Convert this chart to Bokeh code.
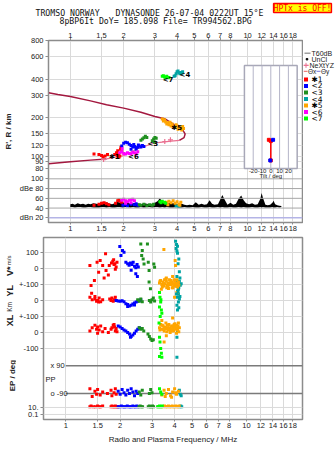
import math
from bokeh.plotting import figure
from bokeh.layouts import column, row
from bokeh.models import (Range1d, FixedTicker, LogAxis, Label, Span, LinearScale)
from bokeh.embed import file_html
from bokeh.resources import INLINE
from bokeh.core.properties import value

# ---------------- data ----------------
freq_ticks = [1, 1.5, 2, 3, 4, 5, 6, 7, 8, 10, 12, 14, 16, 18]
freq_tick_labels = ["1", "1.5", "2", "3", "4", "5", "6", "7", "8", "10", "12", "14", "16", "18"]
range_ticks = [80, 90, 100, 120, 150, 200, 300, 400, 600, 800]
dbe_ticks = [20, 40, 60, 80, 100]
dbe_tick_labels = ["dBn 20", "40", "60", "dBe 80", "100"]
tilt_ticks = [-20, -10, 0, 10, 20]

class_ids = [1, 2, 3, 4, 5, 6, 7]
class_names = ["✱1", "<2", "<3", "<4", "✱5", "<6", "<7"]
class_colors = ["#ff0000", "#0000ff", "#1f8f1f", "#00a3a3", "#ffa500", "#ff00ff", "#00ff00"]

# virtual range R' (km) of echoes, per class: (freq MHz, km)
rng_pts = {
    1: ([1.36, 1.45, 1.5, 1.53, 1.57, 1.62, 1.78, 1.82, 1.85, 1.87, 1.9, 1.92, 1.95, 1.88, 1.84, 1.93],
        [104, 103, 101, 99, 100, 103, 103, 106, 110, 104, 100, 113, 108, 98, 101, 117]),
    2: ([1.95, 2.0, 2.05, 2.1, 2.15, 2.2, 2.25, 2.3, 2.35, 2.4, 2.45, 2.5, 2.55, 2.6, 2.2, 2.35, 2.28, 2.42],
        [120, 126, 128, 127, 124, 121, 118, 119, 116, 117, 120, 118, 121, 119, 113, 113, 123, 122]),
    3: ([2.5, 2.55, 2.6, 2.65, 2.7, 2.9, 2.95, 3.0, 3.05, 2.98],
        [133, 136, 139, 143, 140, 132, 136, 140, 138, 128]),
    4: ([3.85, 3.9, 3.95, 4.0, 4.05, 4.1, 4.15, 4.2, 4.25, 4.3],
        [420, 425, 440, 455, 462, 448, 440, 450, 445, 455]),
    5: ([3.3, 3.35, 3.45, 3.5, 3.55, 3.6, 3.7, 3.8, 3.9, 4.0, 4.1, 4.2, 4.3, 4.35, 3.65, 3.95, 3.4, 3.75, 4.05, 4.25],
        [195, 188, 185, 178, 182, 176, 172, 170, 168, 172, 168, 166, 170, 164, 184, 176, 192, 178, 162, 160]),
    6: ([1.9, 1.95, 2.0, 2.05, 2.1, 2.15, 2.2, 2.3, 2.4, 1.96, 2.25, 2.35],
        [106, 108, 105, 104, 106, 105, 104, 106, 108, 114, 107, 104]),
    7: ([3.3, 3.35, 3.4, 3.45, 3.5, 3.6],
        [420, 425, 415, 410, 420, 412]),
}
# class labels drawn in the range panel
tag_f = [1.77, 2.27, 2.92, 3.56, 4.43, 3.98]
tag_km = [99, 99, 125, 395, 430, 167]
tag_text = ["✱1", "<6", "<3", "<7", "<4", "✱5"]

# profile curves
prof_f = [0.753, 0.85, 1.0, 1.3, 1.6, 2.0, 2.5, 3.0, 3.4, 3.87, 4.3, 4.44, 4.38, 4.12]
prof_km = [312, 303, 292, 270, 252, 237, 220, 204, 196, 175, 160, 149, 139.5, 132.6]
low_f = [0.753, 1.0, 1.3, 1.6]
low_km = [87.2, 90.5, 93, 95]
nexyz_f = [1.6, 2.0, 2.4, 3.0, 3.41, 3.7, 4.12]
nexyz_km = [95, 101, 114, 127, 129, 131, 132.6]
nexyz_mark_f = [1.54, 3.41, 3.67]
nexyz_mark_km = [94, 130, 134]

# tilt inset (deg, km)
thx_tilt = [-2.2, 0, 0]
thx_km = [134, 131, 92.5]
thy_tilt = [2.6, -0.6]
thy_km = [134, 92.5]

# amplitude trace (dBe)
amp_f = [1.0, 1.03, 1.06, 1.1, 1.14, 1.18, 1.22, 1.26, 1.3, 1.35,
         1.4, 1.45, 1.5, 1.55, 1.6, 1.66, 1.72, 1.78, 1.84, 1.9,
         1.97, 2.04, 2.11, 2.18, 2.26, 2.34, 2.42, 2.5, 2.6, 2.7,
         2.8, 2.9, 3.0, 3.1, 3.2, 3.3, 3.4, 3.5, 3.65, 3.8,
         3.95, 4.1, 4.25, 4.4, 4.55, 4.7, 4.9, 5.1, 5.3, 5.5,
         5.7, 5.9, 6.1, 6.3, 6.5, 6.8, 7.0, 7.2, 7.4, 7.7,
         8.0, 8.3, 8.6, 8.9, 9.2, 9.5, 9.8, 10.2, 10.6, 11.0,
         11.4, 11.8, 12.0, 12.2, 12.6, 13.0, 13.4, 13.8, 14.0, 14.3,
         14.7, 15.1, 15.5]
amp_hi = [48, 49, 47, 50, 48, 49, 47, 49, 48, 50,
          49, 48, 51, 50, 52, 49, 48, 50, 53, 51,
          52, 50, 51, 49, 50, 51, 49, 48, 50, 49,
          48, 49, 51, 54, 60, 53, 50, 49, 51, 50,
          49, 48, 49, 47, 46, 47, 46, 52, 47, 49,
          47, 48, 56, 49, 47, 48, 57, 67, 58, 47,
          51, 47, 49, 59, 66, 56, 50, 48, 50, 47,
          48, 59, 71, 61, 47, 46, 47, 51, 55, 48,
          46, 45, 44]
amp_lo = [42, 42, 41, 42, 42, 41, 41, 42, 42, 41,
          41, 41, 42, 42, 41, 42, 41, 41, 42, 42,
          41, 42, 42, 41, 42, 41, 41, 42, 41, 42,
          42, 41, 42, 42, 41, 42, 41, 42, 41, 41,
          42, 41, 41, 42, 41, 41, 42, 41, 41, 42,
          41, 41, 42, 41, 41, 42, 41, 42, 41, 41,
          42, 41, 41, 42, 41, 42, 41, 41, 42, 41,
          41, 42, 41, 42, 41, 41, 41, 42, 41, 41,
          42, 41, 42]
amp_pts = {
    1: ([1.36, 1.45, 1.5, 1.55, 1.6, 1.65, 1.8, 1.85, 1.88, 1.92, 1.95],
        [46, 48, 50, 51, 49, 47, 50, 55, 57, 54, 52]),
    2: ([1.98, 2.05, 2.1, 2.2, 2.3, 2.35, 2.4], [46, 47, 45, 48, 47, 49, 46]),
    3: ([2.45, 2.5, 2.6, 2.7, 2.8, 2.9, 2.95], [47, 46, 48, 45, 47, 46, 48]),
    4: ([3.95, 4.05, 4.1], [44, 45, 43]),
    5: ([3.5, 3.6, 3.7, 3.8, 3.9, 4.0, 4.1, 4.2, 3.55, 4.15], [52, 54, 51, 55, 50, 53, 48, 52, 47, 46]),
    6: ([1.95, 2.0, 2.05, 2.1, 2.15, 2.2, 2.25, 2.3, 2.05, 2.2], [56, 58, 55, 53, 56, 57, 58, 55, 50, 51]),
    7: ([3.2, 3.25, 3.3, 3.4, 3.45], [53, 51, 54, 52, 50]),
}

# V* (m/s)
vel_pts = {
    1: ([1.36, 1.38, 1.39, 1.44, 1.49, 1.52, 1.55, 1.6, 1.63, 1.67, 1.66, 1.72, 1.74, 1.79, 1.82, 1.85, 1.87, 1.88, 1.9, 1.92, 1.84],
        [19, -106, -154, -75, 40, -23, 50, 19, -60, -12, 92, -40, 19, 35, 45, 25, 30, -5, 10, 40, 55]),
    2: ([1.99, 2.02, 2.06, 2.1, 2.15, 2.2, 2.24, 2.28, 2.32, 2.36, 2.4, 2.44, 2.48, 2.52, 2.3, 2.44, 2.49],
        [137, 81, 112, 102, 40, 30, 20, 35, 25, 40, 15, 5, 25, 10, -10, -33, -50]),
    3: ([2.6, 2.63, 2.65, 2.68, 2.71, 2.83, 2.86, 2.89, 2.89, 2.94, 3.07, 3.1],
        [154, 81, 112, 60, 29, 154, 40, -12, -85, -127, 29, 8]),
    4: ([4.05, 4.1, 4.08, 4.12, 4.15, 4.1, 4.2, 4.18, 4.22, 4.25, 4.3, 4.15, 4.2, 4.28, 4.35, 4.1,
         4.15, 4.22, 4.18, 4.25, 4.12, 4.2],
        [170, 150, 125, 110, 95, -110, -90, -100, -120, -80, -105, -140, -130, -60, -95, -75,
         140, 60, 30, -20, -50, -160]),
    5: ([3.49, 3.3, 3.35, 3.4, 3.45, 3.5, 3.55, 3.6, 3.65, 3.7, 3.75, 3.8, 3.85, 3.9, 3.95, 4.0, 4.05, 4.1, 4.15, 4.2,
         3.38, 3.6, 3.9, 4.03, 4.05, 4.12, 3.7, 4.0,
         3.32, 3.42, 3.52, 3.62, 3.72, 3.82, 3.92, 4.02, 4.12, 4.22, 3.48, 3.58, 3.68, 3.78, 3.88, 3.98, 4.08, 4.18],
        [119, -90, -75, -100, -85, -110, -95, -80, -105, -90, -70, -100, -85, -95, -110, -80, -100, -90, -115, -85,
         -130, -60, -50, 50, 19, -150, -125, -180,
         -80, -115, -70, -120, -100, -75, -120, -95, -70, -105, -95, -65, -110, -90, -120, -70, -110, -95]),
}
# YL (km)
yl_pts = {
    1: ([1.36, 1.4, 1.45, 1.48, 1.5, 1.53, 1.56, 1.6, 1.75, 1.78, 1.8, 1.83, 1.86, 1.88, 1.9, 1.45, 1.52],
        [20, 5, 10, -5, 0, 15, -8, 5, 10, 0, 15, -5, 5, 20, 0, 25, -10]),
    2: ([1.9, 1.95, 2.0, 2.05, 2.1, 2.15, 2.2, 2.25, 2.3, 2.35, 2.4, 2.45, 2.5, 2.55, 2.6, 2.2, 2.4],
        [0, -3, -5, -2, -8, -20, -25, -35, -30, -22, -15, -10, -5, -2, 5, -38, -28]),
    3: ([2.5, 2.55, 2.6, 2.65, 2.9, 2.95, 3.0, 3.05, 3.1], [5, -5, 10, -8, 0, -10, 5, 15, -3]),
    4: ([4.1, 4.15, 4.2, 4.12, 4.25, 4.18, 4.22, 4.28, 4.15], [40, 20, -10, -30, 10, 55, -45, 25, -60]),
    7: ([3.3, 3.32, 3.35, 3.3, 3.38, 3.4, 3.33, 3.36], [50, 20, -10, -40, -60, -80, -100, 5]),
}
# XL (km)
xl_pts = {
    1: ([1.36, 1.4, 1.45, 1.48, 1.5, 1.53, 1.56, 1.6, 1.65, 1.72, 1.78, 1.8, 1.83, 1.86, 1.88, 1.9, 1.92, 1.5, 1.85],
        [10, 30, 45, 20, 35, 15, 40, 5, 25, 0, 20, 30, 45, 35, 10, 25, 5, -5, 50]),
    2: ([1.95, 2.0, 2.05, 2.1, 2.15, 2.2, 2.25, 2.3, 2.35, 2.4, 2.45, 2.5, 2.55, 2.6, 2.28],
        [40, 35, 25, 15, 10, 0, -10, -25, -15, -5, 10, 20, 30, 25, -30]),
    3: ([2.55, 2.6, 2.65, 2.7, 2.85, 2.9, 2.95, 3.0, 3.05], [30, 20, 25, 10, -10, -25, -40, -50, -45]),
    4: ([4.12, 4.12, 4.15], [-30, -155, 10]),
    5: ([3.3, 3.35, 3.4, 3.45, 3.5, 3.55, 3.6, 3.65, 3.7, 3.75, 3.8, 3.85, 3.9, 3.95, 4.0, 4.05, 4.1, 4.15, 4.2,
         3.4, 3.6, 3.9, 4.1, 3.5, 4.25,
         3.32, 3.42, 3.52, 3.62, 3.72, 3.82, 3.92, 4.02, 4.12, 4.22, 3.48, 3.58, 3.68, 3.78, 3.88, 3.98, 4.08, 4.18],
        [30, 50, 20, 40, 10, 35, 25, 45, 15, 30, 20, 40, 25, 10, 35, 20, 45, 15, 60, 75, -20, 90, -5, -60, 30,
         15, 45, 30, 5, 50, 10, 40, 55, 25, 5, 20, 60, 30, 0, 15, 50, 30, 40]),
    7: ([3.3, 3.32, 3.35, 3.38, 3.3, 3.4, 3.28], [-30, -60, -100, -130, -150, -155, 60]),
}
# PP (deg)
pp_pts = {
    1: ([1.36, 1.4, 1.45, 1.48, 1.5, 1.55, 1.6, 1.7, 1.78, 1.8, 1.85, 1.88, 1.9],
        [-60, -110, -75, -95, -65, -100, -80, -90, -70, -105, -85, -60, -95]),
    2: ([1.95, 2.0, 2.05, 2.1, 2.15, 2.2, 2.25, 2.3, 2.35, 2.4, 2.45, 2.5],
        [-75, -95, -65, -85, -100, -70, -90, -60, -80, -105, -75, -90]),
    3: ([2.55, 2.6, 2.65, 2.9, 2.95, 3.0], [-80, -100, -70, -90, -65, -85]),
    4: ([4.25, 4.3, 4.35], [-70, -95, -105]),
    5: ([3.4, 3.5, 3.6, 3.7, 3.8, 3.9, 4.0, 4.1, 4.2, 3.55, 3.85, 4.05],
        [-100, -70, -90, -65, -105, -80, -60, -95, -75, -110, -115, -85]),
    7: ([3.3, 3.35, 3.4], [-60, -80, -95]),
}
# EP (deg)
ep_pts = {
    1: ([1.36, 1.38, 1.42, 1.46, 1.5, 1.53, 1.56, 1.6, 1.78, 1.8, 1.83, 1.86, 1.88, 1.9, 1.93],
        [11, 12, 11, 11, 12, 11, 11, 12, 11, 12, 11, 11, 12, 11, 11]),
    2: ([1.95, 1.99, 2.03, 2.07, 2.11, 2.15, 2.19, 2.23, 2.27, 2.31, 2.35, 2.39, 2.43, 2.47, 2.51],
        [11, 11, 12, 11, 11, 11, 12, 11, 11, 11, 12, 11, 11, 12, 11]),
    3: ([2.54, 2.58, 2.62, 2.66, 2.86, 2.9, 2.94, 2.98, 3.02, 3.06], [11, 12, 11, 11, 11, 12, 11, 11, 12, 11]),
    4: ([4.28, 4.33, 4.38], [11, 12, 11]),
    5: ([3.46, 3.52, 3.58, 3.64, 3.7, 3.76, 3.82, 3.88, 3.94, 4.0, 4.06, 4.12, 4.18, 4.24],
        [11, 12, 11, 11, 12, 11, 11, 12, 11, 11, 12, 11, 11, 12]),
    7: ([3.22, 3.26, 3.3, 3.34, 3.38, 3.42], [11, 11, 12, 11, 11, 12]),
}

# ---------------- style ----------------
FONT = "Liberation Sans"
MONO = "DejaVu Sans Mono"
AXC = "#8c8c8c"
GRID = "#dadada"
TXT = "#222222"
CRIMSON = "#a3183f"
PINK = "#ea7090"
freq_overrides = {t: l for t, l in zip(freq_ticks, freq_tick_labels)}
X0, X1 = 0.753, 20.4
xr = Range1d(X0, X1)
R_LO, R_HI = 30.28, 800          # R' axis span of the upper frame (log)
D_LO, D_HI = 10.4, 383.7         # dBe axis span of the same frame (linear)


def style_axis(ax, size="7.5px"):
    ax.axis_line_color = AXC
    ax.major_tick_line_color = AXC
    ax.minor_tick_line_color = None
    ax.major_tick_in = 0
    ax.major_tick_out = 3
    ax.major_label_text_font = FONT
    ax.major_label_text_font_size = size
    ax.major_label_text_color = TXT


def freq_axis(ax, standoff, tick_out):
    style_axis(ax)
    ax.ticker = FixedTicker(ticks=freq_ticks)
    ax.major_label_overrides = freq_overrides
    ax.major_label_standoff = standoff
    ax.major_tick_out = tick_out


def pixel_fig(width, height, x0, x1, y_top, y_bot):
    p = figure(width=width, height=height, x_range=Range1d(x0, x1), y_range=Range1d(y_bot, y_top),
               x_axis_type=None, y_axis_type=None, output_backend="svg",
               toolbar_location=None, min_border=0, outline_line_color=None)
    p.background_fill_color = "white"
    p.border_fill_color = "white"
    return p


# ---------------- header ----------------
hdr = pixel_fig(335, 27, 0, 335, 0, 27)
for x, y, t in [(35, 12, "TROMSO NORWAY"), (115, 12, "DYNASONDE 26-07-04 0222UT 15°E"),
                (59, 20.5, "8pBP6It DoY= 185.098 File= TR994562.BPG")]:
    hdr.add_layout(Label(x=x, y=y, text=t, text_font=MONO, text_font_size="8.2px",
                         text_color="#111111", text_baseline="middle", text_align="left"))
hdr.add_layout(Label(x=302, y=7.5, text="HPTx is OFF!", text_font=MONO, text_font_size="8px",
                     text_color="#ff0000", text_baseline="middle", text_align="center",
                     background_fill_color="#ffff00", border_line_color="#ff0000",
                     border_line_width=1.5))

# ---------------- range + amplitude panel (one frame, two vertical scales) ----------------
pt = figure(width=303, height=209, x_axis_type="log", y_axis_type="log",
            x_range=xr, y_range=Range1d(R_LO, R_HI), x_axis_location="above",
            output_backend="svg", toolbar_location=None,
            min_border_left=40, min_border_right=1, min_border_top=13, min_border_bottom=14)
pt.background_fill_color = "white"
pt.border_fill_color = "white"
pt.outline_line_color = AXC
pt.outline_line_width = 1.5
pt.extra_y_ranges = {"dbe": Range1d(D_LO, D_HI)}
pt.extra_y_scales = {"dbe": LinearScale()}
pt.extra_x_ranges = {"tilt": Range1d(-252.8, 36.05)}
pt.extra_x_scales = {"tilt": LinearScale()}

freq_axis(pt.xaxis[0], 0, 3)
bax = LogAxis()
freq_axis(bax, 1, 2)
pt.add_layout(bax, "below")


def dbe_on_range_axis(d):
    # same screen height expressed on the log R' axis, for shared left tick labels
    frac = (d - D_LO) / (D_HI - D_LO)
    return R_LO * 10 ** (frac * math.log10(R_HI / R_LO))


ya = pt.yaxis[0]
style_axis(ya)
left_pos = range_ticks + [dbe_on_range_axis(d) for d in dbe_ticks]
left_txt = [str(t) for t in range_ticks] + dbe_tick_labels
ya.ticker = FixedTicker(ticks=left_pos)
ya.major_label_overrides = {t: l for t, l in zip(left_pos, left_txt)}
ya.major_label_standoff = 2
ya.axis_label = "R', R / km"
ya.axis_label_text_font = FONT
ya.axis_label_text_font_size = "8px"
ya.axis_label_text_font_style = "bold"
ya.axis_label_text_color = TXT
ya.axis_label_standoff = 4
pt.xgrid.ticker = FixedTicker(ticks=freq_ticks)
pt.xgrid.grid_line_color = GRID
pt.ygrid.ticker = FixedTicker(ticks=range_ticks)
pt.ygrid.grid_line_color = GRID
for d in [40, 60, 80, 100]:
    pt.add_layout(Span(location=d, dimension="width", y_range_name="dbe",
                       line_color="#a6a6a6", line_width=1))
pt.add_layout(Span(location=20, dimension="width", y_range_name="dbe",
                   line_color="#b4b4e6", line_width=1.5))

# tilt inset
pt.quad(left=[-30], right=[30], bottom=[80], top=[510], x_range_name="tilt",
        fill_color="white", line_color="#a8a8b8", line_width=1.5)
pt.segment(x0=tilt_ticks, y0=[80] * 5, x1=tilt_ticks, y1=[510] * 5, x_range_name="tilt",
           line_color="#b4b4c8", line_width=1)
pt.line(thx_tilt, thx_km, x_range_name="tilt", line_color="#ff0000", line_width=1.5)
pt.scatter(thx_tilt, thx_km, x_range_name="tilt", marker="square", size=3, color="#ff0000")
pt.scatter(thy_tilt, thy_km, x_range_name="tilt", marker="square", size=3, color="#0000ff")
for t in tilt_ticks:
    pt.add_layout(Label(x=t, y=117, x_range_name="tilt", y_range_name="dbe", text=str(t),
                        text_font=FONT, text_font_size="6px", text_color=TXT,
                        text_align="center", text_baseline="middle"))
pt.add_layout(Label(x=0, y=106, x_range_name="tilt", y_range_name="dbe", text="Tilt / deg",
                    text_font=FONT, text_font_size="6px", text_color=TXT,
                    text_align="center", text_baseline="middle"))

# profile curves
pt.line(prof_f, prof_km, line_color=CRIMSON, line_width=1.5)
pt.line(low_f, low_km, line_color=CRIMSON, line_width=1.5)
pt.line(nexyz_f, nexyz_km, line_color=PINK, line_width=1.2)
pt.scatter(nexyz_mark_f, nexyz_mark_km, marker="cross", size=5, line_color=PINK, line_width=1.2)

for k, col in zip(class_ids, class_colors):
    f, v = rng_pts[k]
    pt.scatter(f, v, marker="square", size=3, fill_color=col, line_color=None)
pt.text(tag_f, tag_km, text=tag_text, text_font=value("DejaVu Sans"), text_font_size="7px",
        text_font_style="bold", text_color="black", text_align="center", text_baseline="middle")

# amplitudes
pt.varea(x=amp_f, y1=amp_lo, y2=amp_hi, fill_color="black", y_range_name="dbe")
for k, col in zip(class_ids, class_colors):
    f, v = amp_pts[k]
    pt.scatter(f, v, marker="square", size=3, fill_color=col, line_color=None, y_range_name="dbe")

# ---------------- legend strip (pixel coordinates of the page) ----------------
lg = pixel_fig(32, 209, 303, 335, 27, 236)


def lg_text(x, y, t, color=TXT, size="7px", font=FONT):
    lg.add_layout(Label(x=x, y=y, text=t, text_font=font, text_font_size=size,
                        text_color=color, text_align="left", text_baseline="middle"))


lg.segment(x0=[304], y0=[41.5], x1=[310], y1=[41.5], line_color="#a0a0a0", line_width=1.5)
lg_text(311, 41.5, "T60dB")
lg.scatter([306.5], [48.5], marker="square", size=1.5, color="black")
lg_text(311, 48.5, "UnCl")
lg.segment(x0=[303], y0=[55.5], x1=[308], y1=[55.5], line_color=PINK, line_width=1)
lg.scatter([305.5], [55.5], marker="cross", size=5, line_color=PINK, line_width=1)
lg_text(309, 55.5, "NeXtYZ")
lg.segment(x0=[303], y0=[62.5], x1=[307], y1=[62.5], line_color="#f08080", line_width=1.2)
lg_text(307.5, 62.5, "Θx", size="6.5px")
lg.segment(x0=[316], y0=[62.5], x1=[320], y1=[62.5], line_color="#9090e0", line_width=1.2)
lg_text(320.5, 62.5, "Θy", size="6.5px")
for i, (name, col) in enumerate(zip(class_names, class_colors)):
    yy = 71.7 + 7.5 * i
    lg.scatter([305.5], [yy], marker="square", size=4, fill_color=col, line_color=None)
    lg_text(311, yy, name, "black", "7.5px", "DejaVu Sans")

# ---------------- velocity / location / polarization panel ----------------
p3 = figure(width=319, height=215, x_axis_type="log", x_range=xr, y_range=Range1d(-944, 194),
            output_backend="svg", toolbar_location=None,
            min_border_left=24, min_border_right=33, min_border_top=1, min_border_bottom=32)
p3.background_fill_color = "white"
p3.border_fill_color = "white"
p3.outline_line_color = AXC
p3.outline_line_width = 1.5
p3.extra_y_ranges = {"yl": Range1d(-744, 394), "xl": Range1d(-544, 594),
                     "pp": Range1d(-259.6, 924.5), "ep": Range1d(-7.03, 250.5)}
freq_axis(p3.xaxis[0], 1, 2)
xa3 = p3.xaxis[0]
xa3.axis_label = "Radio and Plasma Frequency / MHz"
xa3.axis_label_text_font = FONT
xa3.axis_label_text_font_size = "8px"
xa3.axis_label_text_font_style = "normal"
xa3.axis_label_text_color = TXT
xa3.axis_label_standoff = 4
ya3 = p3.yaxis[0]
style_axis(ya3)
left_tick_pos = [100, 0, -100, -200, -300, -400, -500, -869, -912]
left_tick_txt = ["100", "0", "+-100", "0", "+-100", "0", "-100", "10.", "0.1"]
ya3.ticker = FixedTicker(ticks=left_tick_pos)
ya3.major_label_overrides = {t: l for t, l in zip(left_tick_pos, left_tick_txt)}
ya3.major_label_standoff = 2
p3.xgrid.ticker = FixedTicker(ticks=freq_ticks)
p3.xgrid.grid_line_color = GRID
p3.ygrid.ticker = FixedTicker(ticks=[100, 0, -100, -200, -300, -400, -500])
p3.ygrid.grid_line_color = GRID
for loc in [10, 0.1]:
    p3.add_layout(Span(location=loc, dimension="width", y_range_name="ep",
                       line_color=GRID, line_width=1))
p3.segment(x0=[1, 1], y0=[90, -90], x1=[X1, X1], y1=[90, -90], y_range_name="pp",
           line_color="#7a7a7a", line_width=1.5)

for pts, rn in [(vel_pts, "default"), (yl_pts, "yl"), (xl_pts, "xl"), (pp_pts, "pp"), (ep_pts, "ep")]:
    for k, col in zip(class_ids, class_colors):
        if k in pts:
            f, v = pts[k]
            p3.scatter(f, v, marker="square", size=3, fill_color=col, line_color=None,
                       y_range_name=rn)

for x, y, t, rn in [(0.823, 90, "x 90", "pp"), (0.772, -694, "PP", "default"), (0.823, -90, "o -90", "pp")]:
    p3.add_layout(Label(x=x, y=y, y_range_name=rn, text=t, text_font=FONT, text_font_size="7.5px",
                        text_color=TXT, text_align="left", text_baseline="middle"))

# rotated row titles left of the lower panel (pixel coordinates of the page)
lab3 = pixel_fig(16, 215, 0, 16, 236, 451)
for x, y, t, sz, st in [(9, 276, "V*", "9px", "bold"), (8, 263, "m/s", "6px", "normal"),
                        (9, 299, "YL", "9px", "bold"), (9, 318, "Km", "6.5px", "normal"),
                        (9, 334, "XL", "9px", "bold"), (12, 399, "EP / deg", "8px", "bold")]:
    lab3.add_layout(Label(x=x, y=y, text=t, angle=90, angle_units="deg", text_font=FONT,
                          text_font_size=sz, text_font_style=st, text_color=TXT,
                          text_align="center", text_baseline="middle"))

layout = column(hdr, row(pt, lg, spacing=0), row(lab3, p3, spacing=0), spacing=0)
open("out.html", "w").write(file_html(layout, INLINE))
